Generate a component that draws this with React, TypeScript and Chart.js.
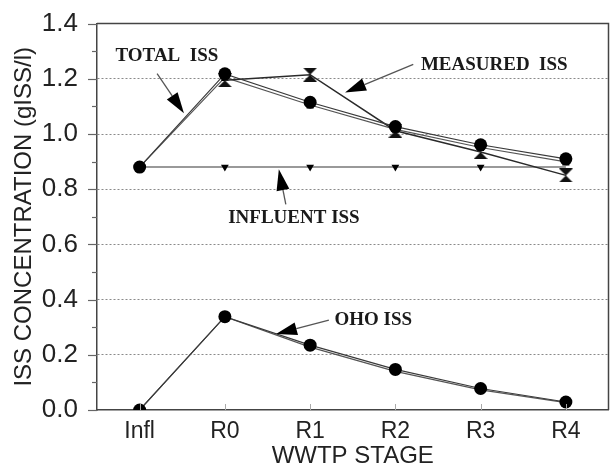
import React, { useEffect, useRef } from 'react';
import { Chart, registerables } from 'chart.js';

Chart.register(...registerables);

const categories = ['Infl', 'R0', 'R1', 'R2', 'R3', 'R4'];
const totalIss = [0.88, 1.218, 1.115, 1.027, 0.961, 0.91];
const totalIssAlt = [0.88, 1.205, 1.105, 1.017, 0.951, 0.899];
const measuredIss = [null, 1.195, 1.215, 1.012, 0.935, 0.85];
const influentIss = [0.88, 0.88, 0.88, 0.88, 0.88, 0.88];
const ohoIss = [0, 0.338, 0.235, 0.147, 0.078, 0.029];
const ohoIssAlt = [0, 0.338, 0.228, 0.14, 0.073, 0.027];
const yMin = 0;
const yMax = 1.4;
const yStep = 0.2;
const yMinorStep = 0.1;

type Note = { text: string; tx: number; ty: number; from: [number, number]; to: [number, number] };
const notes: Note[] = [
  { text: 'TOTAL  ISS', tx: 0.32, ty: 1.284, from: [0.205, 1.219], to: [0.52, 1.075] },
  { text: 'MEASURED  ISS', tx: 4.16, ty: 1.248, from: [3.21, 1.252], to: [2.41, 1.15] },
  { text: 'INFLUENT ISS', tx: 1.81, ty: 0.695, from: [1.715, 0.745], to: [1.633, 0.872] },
  { text: 'OHO ISS', tx: 2.74, ty: 0.324, from: [2.22, 0.326], to: [1.6, 0.275] },
];

function makeHourglass(w: number, h: number) {
  const c = document.createElement('canvas');
  c.width = w;
  c.height = h;
  const g = c.getContext('2d')!;
  g.fillStyle = '#111';
  g.beginPath();
  g.moveTo(0, 0);
  g.lineTo(w, 0);
  g.lineTo(w / 2, h / 2);
  g.closePath();
  g.moveTo(0, h);
  g.lineTo(w, h);
  g.lineTo(w / 2, h / 2);
  g.closePath();
  g.fill();
  return c;
}

const framePlugin = {
  id: 'frame',
  afterDraw(chart: any) {
    const { ctx, chartArea: a, scales } = chart;
    const y = scales.y;
    const x = scales.x;
    ctx.save();
    ctx.strokeStyle = '#444';
    ctx.lineWidth = 1.5;
    ctx.beginPath();
    ctx.moveTo(a.left, a.top);
    ctx.lineTo(a.right, a.top);
    ctx.lineTo(a.right, a.bottom);
    ctx.stroke();
    ctx.strokeStyle = '#666';
    ctx.lineWidth = 1.2;
    const n = Math.round((yMax - yMin) / yMinorStep);
    for (let i = 0; i <= n; i++) {
      const v = yMin + i * yMinorStep;
      const py = Math.round(y.getPixelForValue(v)) + 0.5;
      const len = i % 2 === 0 ? 9 : 5;
      ctx.beginPath();
      ctx.moveTo(a.left - len, py);
      ctx.lineTo(a.left, py);
      ctx.stroke();
    }
    ctx.strokeStyle = '#aaa';
    ctx.lineWidth = 1;
    for (let i = 0; i < categories.length; i++) {
      const px = Math.round(x.getPixelForValue(i)) + 0.5;
      ctx.beginPath();
      ctx.moveTo(px, a.bottom);
      ctx.lineTo(px, a.bottom - 6);
      ctx.stroke();
    }
    ctx.restore();
  },
  afterDatasetsDraw(chart: any) {
    const { ctx, scales } = chart;
    const X = (v: number) => scales.x.getPixelForValue(v);
    const Y = (v: number) => scales.y.getPixelForValue(v);
    ctx.save();
    for (const nt of notes) {
      const x1 = X(nt.from[0]);
      const y1 = Y(nt.from[1]);
      const x2 = X(nt.to[0]);
      const y2 = Y(nt.to[1]);
      const ang = Math.atan2(y2 - y1, x2 - x1);
      const hl = 21;
      const hw = 6.5;
      const bx = x2 - hl * Math.cos(ang);
      const by = y2 - hl * Math.sin(ang);
      ctx.strokeStyle = '#555';
      ctx.lineWidth = 1.3;
      ctx.beginPath();
      ctx.moveTo(x1, y1);
      ctx.lineTo(bx, by);
      ctx.stroke();
      ctx.fillStyle = '#000';
      ctx.beginPath();
      ctx.moveTo(x2, y2);
      ctx.lineTo(bx + hw * Math.sin(ang), by - hw * Math.cos(ang));
      ctx.lineTo(bx - hw * Math.sin(ang), by + hw * Math.cos(ang));
      ctx.closePath();
      ctx.fill();
      ctx.font = 'bold 19px "Liberation Serif", "Times New Roman", serif';
      ctx.textAlign = 'center';
      ctx.textBaseline = 'middle';
      ctx.fillStyle = '#1a1a1a';
      ctx.fillText(nt.text, X(nt.tx), Y(nt.ty));
    }
    ctx.restore();
  },
};

export default function App() {
  const ref = useRef<HTMLCanvasElement | null>(null);
  useEffect(() => {
    document.body.style.margin = '0';
    const hourglass = makeHourglass(14, 14);
    const lineColor = '#3a3a3a';
    const chart = new Chart(ref.current!, {
      type: 'line',
      data: {
        labels: categories,
        datasets: [
          {
            label: 'Total ISS',
            data: totalIss,
            borderColor: lineColor,
            borderWidth: 1.2,
            pointStyle: 'circle',
            pointRadius: 6.5,
            pointBackgroundColor: '#000',
            pointBorderWidth: 0,
            order: 1,
          },
          {
            label: 'Total ISS (alt)',
            data: totalIssAlt,
            borderColor: '#555',
            borderWidth: 1.2,
            pointStyle: 'rect',
            pointRadius: [0, 5, 5, 5, 5, 5],
            pointBackgroundColor: '#000',
            pointBorderWidth: 0,
            order: 3,
          },
          {
            label: 'Measured ISS',
            data: measuredIss,
            borderColor: '#2a2a2a',
            borderWidth: 1.5,
            pointStyle: hourglass as any,
            pointRadius: 7,
            order: 2,
          },
          {
            label: 'Influent ISS',
            data: influentIss,
            borderColor: '#777',
            borderWidth: 1.5,
            pointStyle: 'triangle',
            rotation: 180,
            pointRadius: [0, 4.5, 4.5, 4.5, 4.5, 0],
            pointBackgroundColor: '#000',
            pointBorderWidth: 0,
            order: 4,
          },
          {
            label: 'OHO ISS',
            data: ohoIss,
            borderColor: lineColor,
            borderWidth: 1.2,
            pointStyle: 'circle',
            pointRadius: 6.5,
            pointBackgroundColor: '#000',
            pointBorderWidth: 0,
            order: 1,
          },
          {
            label: 'OHO ISS (alt)',
            data: ohoIssAlt,
            borderColor: '#555',
            borderWidth: 1.2,
            pointStyle: 'rect',
            pointRadius: [0, 0, 5, 5, 5, 5],
            pointBackgroundColor: '#000',
            pointBorderWidth: 0,
            order: 3,
          },
        ],
      },
      options: {
        animation: false,
        responsive: false,
        events: [],
        layout: { padding: { top: 11, right: 2, left: 0, bottom: 0 } },
        plugins: { legend: { display: false }, tooltip: { enabled: false } },
        scales: {
          x: {
            type: 'category',
            offset: true,
            grid: { display: false },
            border: { display: true, color: '#444', width: 1.5 },
            ticks: {
              color: '#222',
              padding: 0,
              font: { family: '"Liberation Sans", Arial, sans-serif', size: 23 },
            },
            title: {
              display: true,
              text: 'WWTP STAGE',
              color: '#222',
              padding: 0,
              font: { family: '"Liberation Sans", Arial, sans-serif', size: 24, lineHeight: 1 },
            },
            afterFit: (s: any) => {
              s.height = 58;
            },
          },
          y: {
            type: 'linear',
            min: yMin,
            max: yMax,
            grid: {
              drawTicks: false,
              lineWidth: 1,
              color: (c: any) => {
                const v = c.tick ? c.tick.value : 0;
                return v > 0.01 && v < yMax - 0.01 ? '#8a8a8a' : 'rgba(0,0,0,0)';
              },
            },
            border: { display: true, color: '#444', width: 1.5, dash: [2, 2] },
            ticks: {
              stepSize: yStep,
              color: '#222',
              padding: 19,
              font: { family: '"Liberation Sans", Arial, sans-serif', size: 26 },
              callback: (v: any) => Number(v).toFixed(1),
            },
            title: {
              display: true,
              text: 'ISS CONCENTRATION (gISS/l)',
              color: '#222',
              padding: { top: 10, bottom: 0 },
              font: { family: '"Liberation Sans", Arial, sans-serif', size: 24, lineHeight: 1.2 },
            },
            afterFit: (s: any) => {
              s.width = 97;
            },
          },
        },
      },
      plugins: [framePlugin],
    });
    return () => chart.destroy();
  }, []);
  return (
    <div style={{ width: 611, height: 468, overflow: 'hidden', position: 'relative' }}>
      <canvas
        ref={ref}
        width={617}
        height={479}
        style={{ display: 'block', position: 'absolute', left: 0, top: -11 }}
      />
    </div>
  );
}
